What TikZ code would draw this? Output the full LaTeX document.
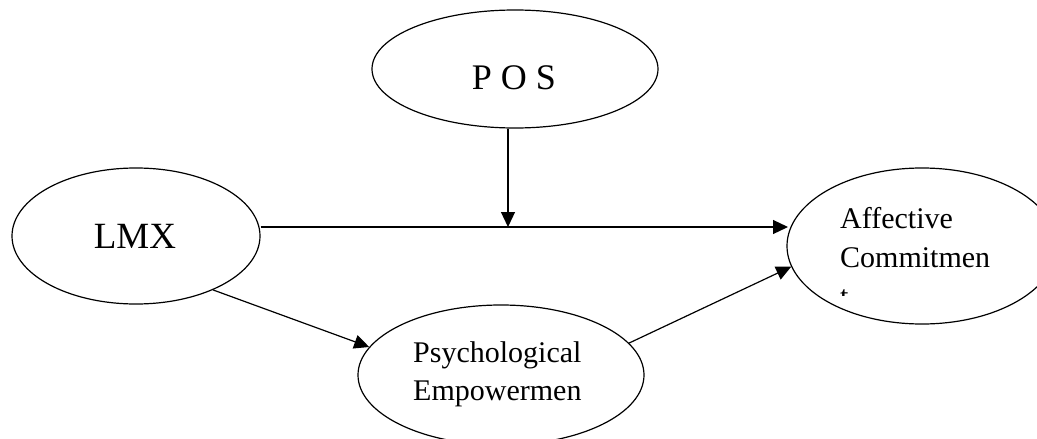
\documentclass[tikz,border=0pt]{standalone}
\usepackage{fontspec}
\setmainfont{Liberation Serif}
\usetikzlibrary{shapes.geometric,arrows.meta}
\tikzset{
  ell/.style={ellipse, draw, line width=1.2pt, inner sep=0pt},
  conn/.style={line width=1.2pt, -{Triangle[length=15pt,width=14pt]}},
  lbl/.style={anchor=base west, inner sep=0pt, font=\fontsize{30pt}{38pt}\selectfont}
}
\begin{document}
\begin{tikzpicture}[x=1pt,y=-1pt]
\useasboundingbox (0,0) rectangle (1037,439);
\clip (0,0) rectangle (1037,439);
\fill[white] (0,0) rectangle (1037,439);
% ellipses
\node[ell, minimum width=286pt, minimum height=118pt] (pos) at (515,69) {};
\node[ell, minimum width=248pt, minimum height=136pt] (lmx) at (136,236) {};
\node[ell, minimum width=270pt, minimum height=156pt] (aff) at (922,246) {};
\node[ell, minimum width=286pt, minimum height=140pt] (psy) at (501,375) {};
% texts
\node[anchor=base, inner sep=0pt, font=\fontsize{36pt}{40pt}\selectfont] (posT) at (514,89) {P O S};
\node[anchor=base, inner sep=0pt, font=\fontsize{37pt}{40pt}\selectfont] (lmxT) at (135,248) {LMX};
\node[lbl] (affT1) at (840,228) {Affective};
\node[lbl] (affT2) at (840,267) {Commitmen};
\begin{scope}
\clip (830,280) rectangle (870,295);
\node[lbl] (affT3) at (840,306) {t};
\end{scope}
\node[lbl] (psyT1) at (413,362) {Psychological};
\node[lbl] (psyT2) at (413,400) {Empowermen};
% connectors
\coordinate (m) at (508,227);
\draw[line width=1.2pt] (lmx.east |- m) -- (aff.west |- m);
\draw[conn] (pos.south -| m) -- (m);
\coordinate (affin) at (788,227);
\draw[conn] (m) -- (affin);
\draw[conn] (lmx.-35) -- (psy.168);
\draw[conn] (psy.14) -- (aff.-171);
\end{tikzpicture}
\end{document}
